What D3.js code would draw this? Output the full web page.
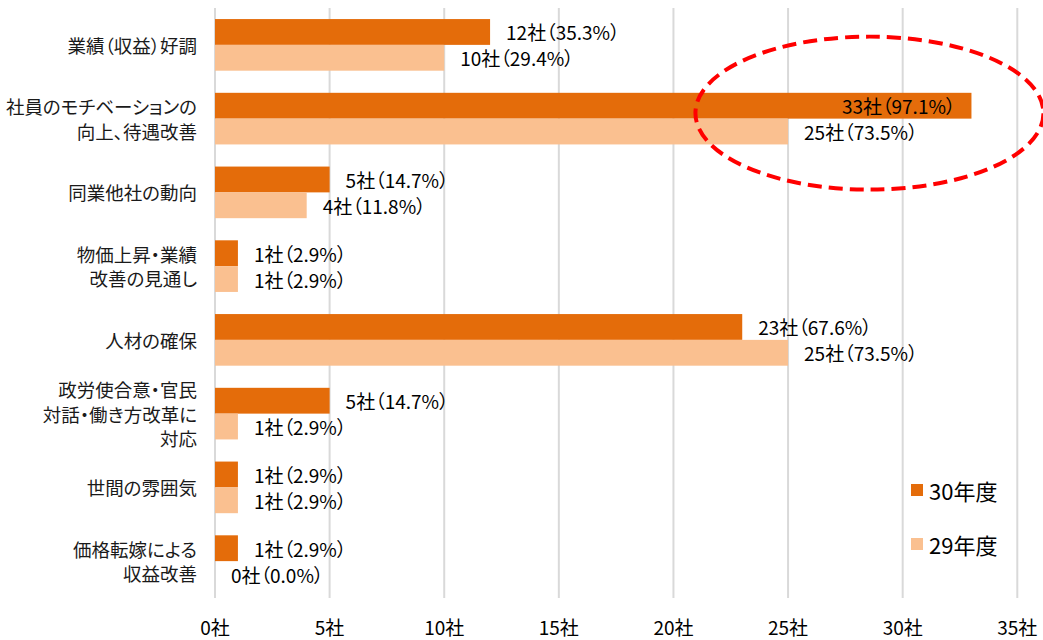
<!DOCTYPE html>
<html>
<head>
<meta charset="utf-8">
<script src="https://cdn.jsdelivr.net/npm/d3@7"></script>
<style>
  body { margin: 0; background: #fff; }
  svg { display: block; font-family: "Noto Sans CJK JP", sans-serif; font-feature-settings: "palt"; }
</style>
</head>
<body>
<div id="chart"></div>
<script>
// categories (line breaks as in the original)
const categories = [
    "業績（収益）好調",
    "社員のモチベーションの\n向上、待遇改善",
    "同業他社の動向",
    "物価上昇・業績\n改善の見通し",
    "人材の確保",
    "政労使合意・官民\n対話・働き方改革に\n対応",
    "世間の雰囲気",
    "価格転嫁による\n収益改善"
];
const seriesNames = ["30年度", "29年度"];
const values30 = [12, 33, 5, 1, 23, 5, 1, 1];
const pct30 = ["35.3", "97.1", "14.7", "2.9", "67.6", "14.7", "2.9", "2.9"];
const values29 = [10, 25, 4, 1, 25, 1, 1, 0];
const pct29 = ["29.4", "73.5", "11.8", "2.9", "73.5", "2.9", "2.9", "0.0"];
const tickValues = [0, 5, 10, 15, 20, 25, 30, 35];

const W = 1043, H = 640;
const colors = {"30年度": "#e46c0a", "29年度": "#fac090"};

const svg = d3.select("#chart").append("svg")
    .attr("width", W)
    .attr("height", H);

const x = d3.scaleLinear().domain([0, 35]).range([215, 1017.3]);
const y = d3.scaleBand().domain(categories).range([8, 598])
    .paddingInner(0.3).paddingOuter(0.15);
const ySub = d3.scaleBand().domain(seriesNames).range([0, y.bandwidth()]);

// gridlines
svg.append("g")
    .selectAll("line")
    .data(tickValues)
    .join("line")
    .attr("x1", d => x(d)).attr("x2", d => x(d))
    .attr("y1", 8).attr("y2", 598)
    .attr("stroke", "#d9d9d9")
    .attr("stroke-width", 2);

// x tick labels
svg.append("g")
    .selectAll("text")
    .data(tickValues)
    .join("text")
    .attr("x", d => x(d))
    .attr("y", 626)
    .attr("text-anchor", "middle")
    .attr("dominant-baseline", "central")
    .attr("font-size", 19)
    .attr("fill", "#000")
    .text(d => d + "社");

// category labels
const catG = svg.append("g");
categories.forEach(c => {
    const lines = c.split("\n");
    const cy = y(c) + y.bandwidth() / 2;
    const lh = 24.5;
    lines.forEach((ln, i) => {
        catG.append("text")
            .attr("x", 197)
            .attr("y", cy + (i - (lines.length - 1) / 2) * lh)
            .attr("text-anchor", "end")
            .attr("dominant-baseline", "central")
            .attr("font-size", 18.5)
            .attr("fill", "#1a1a1a")
            .text(ln);
    });
});

// bars
const rows = [];
categories.forEach((c, i) => {
    rows.push({cat: c, s: "30年度", v: values30[i], p: pct30[i]});
    rows.push({cat: c, s: "29年度", v: values29[i], p: pct29[i]});
});

svg.append("g")
    .selectAll("rect")
    .data(rows)
    .join("rect")
    .attr("x", x(0))
    .attr("y", d => y(d.cat) + ySub(d.s))
    .attr("width", d => x(d.v) - x(0))
    .attr("height", ySub.bandwidth())
    .attr("fill", d => colors[d.s]);

// bar labels (moved inside the bar when it would run off the chart)
const inside = d => x(d.v) > 900;
svg.append("g")
    .selectAll("text")
    .data(rows)
    .join("text")
    .attr("x", d => inside(d) ? x(d.v) - 16 : x(d.v) + 16)
    .attr("y", d => y(d.cat) + ySub(d.s) + ySub.bandwidth() / 2)
    .attr("text-anchor", d => inside(d) ? "end" : "start")
    .attr("dominant-baseline", "central")
    .attr("font-size", 19)
    .attr("fill", "#000")
    .text(d => `${d.v}社（${d.p}%）`);

// legend
const legend = svg.append("g");
seriesNames.forEach((s, i) => {
    const ly = 490 + i * 54;
    legend.append("rect")
        .attr("x", 911).attr("y", ly - 6)
        .attr("width", 12).attr("height", 12)
        .attr("fill", colors[s]);
    legend.append("text")
        .attr("x", 929).attr("y", ly)
        .attr("dominant-baseline", "central")
        .attr("font-size", 22)
        .attr("fill", "#000")
        .text(s);
});

// highlight ellipse around the second category
svg.append("ellipse")
    .attr("cx", x(28.55))
    .attr("cy", y(categories[1]) + y.bandwidth() / 2 - 5.5)
    .attr("rx", 174)
    .attr("ry", 76.5)
    .attr("fill", "none")
    .attr("stroke", "#ff0000")
    .attr("stroke-width", 4)
    .attr("stroke-dasharray", "14 7");
</script>
</body>
</html>
